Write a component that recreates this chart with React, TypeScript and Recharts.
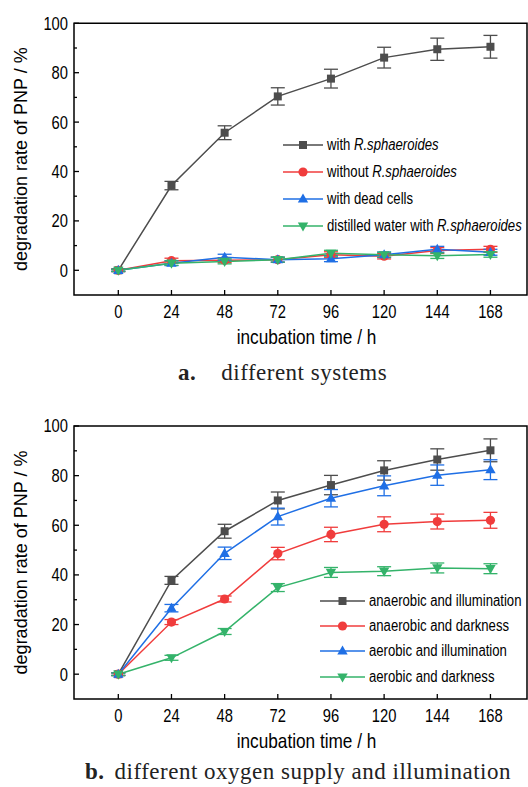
import React from "react";
import { LineChart, Line, XAxis, YAxis, ErrorBar, Legend, ReferenceArea } from "recharts";

const SANS = '"Liberation Sans", Arial, sans-serif';
const SERIF = '"Liberation Serif", "Times New Roman", serif';
// the reference uses a condensed sans; squeeze Liberation Sans horizontally
const SQ = 0.82;

// shared axes
const hours = [0, 24, 48, 72, 96, 120, 144, 168];
const yTicks = [0, 10, 20, 30, 40, 50, 60, 70, 80, 90, 100];
const xDomain = [-20, 184.5];
const yDomain = [-10, 100];

// a. different systems
const withRs = [0, 34.3, 55.7, 70.4, 77.6, 86.1, 89.5, 90.5];
const withRsErr = [0.6, 1.7, 2.8, 3.5, 3.8, 4.2, 4.5, 4.6];
const withoutRs = [0, 3.9, 4.1, 4.3, 6.3, 5.7, 8.0, 8.5];
const withoutRsErr = [0.4, 1.0, 1.0, 1.0, 1.2, 1.1, 1.2, 1.2];
const deadCells = [0, 2.9, 5.3, 4.3, 4.7, 6.3, 8.5, 7.3];
const deadCellsErr = [0.4, 1.0, 1.2, 1.0, 1.2, 1.1, 1.2, 1.2];
const distilled = [0, 2.9, 3.6, 4.3, 6.9, 6.3, 5.9, 6.4];
const distilledErr = [0.4, 0.9, 1.0, 1.0, 1.2, 1.0, 1.1, 1.1];

// b. different oxygen supply and illumination
const anIllum = [0, 37.8, 57.6, 70.0, 76.2, 82.1, 86.5, 90.2];
const anIllumErr = [0.6, 1.6, 2.8, 3.4, 3.9, 3.9, 4.3, 4.6];
const anDark = [0, 21.0, 30.3, 48.6, 56.3, 60.4, 61.5, 62.0];
const anDarkErr = [0.5, 1.0, 1.2, 2.5, 2.9, 3.0, 3.0, 3.2];
const aeIllum = [0, 26.6, 48.7, 63.5, 70.9, 75.9, 80.2, 82.4];
const aeIllumErr = [0.5, 1.5, 2.5, 3.4, 3.5, 4.0, 4.1, 4.0];
const aeDark = [0, 6.6, 17.2, 34.9, 41.0, 41.5, 42.8, 42.5];
const aeDarkErr = [0.5, 1.0, 1.2, 1.6, 2.0, 1.8, 2.0, 2.0];

const colors = ["#4d4d4d", "#f03c3c", "#1f6fe5", "#34b36a"];
const shapes = ["square", "circle", "up", "down"];

const labelsA: [string, string][] = [
  ["with ", "R.sphaeroides"],
  ["without ", "R.sphaeroides"],
  ["with dead cells", ""],
  ["distilled water with ", "R.sphaeroides"],
];
const labelsB: [string, string][] = [
  ["anaerobic and illumination", ""],
  ["anaerobic and darkness", ""],
  ["aerobic and illumination", ""],
  ["aerobic and darkness", ""],
];

const buildRows = (cols: number[][], errs: number[][]) =>
  hours.map((t, i) => {
    const row: Record<string, number> = { t };
    cols.forEach((c, k) => {
      row[`s${k}`] = c[i];
      row[`e${k}`] = errs[k][i];
    });
    return row;
  });

const dataA = buildRows([withRs, withoutRs, deadCells, distilled], [withRsErr, withoutRsErr, deadCellsErr, distilledErr]);
const dataB = buildRows([anIllum, anDark, aeIllum, aeDark], [anIllumErr, anDarkErr, aeIllumErr, aeDarkErr]);

function Marker({ shape, cx, cy, color }: { shape: string; cx: number; cy: number; color: string }) {
  if (shape === "square") return <rect x={cx - 4} y={cy - 4} width={8} height={8} fill={color} />;
  if (shape === "circle") return <circle cx={cx} cy={cy} r={4.6} fill={color} />;
  if (shape === "up")
    return <polygon points={`${cx},${cy - 5.5} ${cx + 5.2},${cy + 3.6} ${cx - 5.2},${cy + 3.6}`} fill={color} />;
  return <polygon points={`${cx},${cy + 5.5} ${cx + 5.2},${cy - 3.6} ${cx - 5.2},${cy - 3.6}`} fill={color} />;
}

// condensed svg text
function NText({ x, y, anchor, size, dy, children }: any) {
  return (
    <text
      transform={`translate(${x},${y}) scale(${SQ},1)`}
      x={0}
      y={0}
      dy={dy}
      textAnchor={anchor}
      fontSize={size}
      fontFamily={SANS}
      fill="#000"
    >
      {children}
    </text>
  );
}

const Y_GAP = 6;
const X_GAP = 10;

const YTick = (props: any) => {
  const { x, y, payload } = props;
  const major = payload.value % 20 === 0;
  const axisX = x + Y_GAP;
  return (
    <g>
      <line x1={axisX} x2={axisX + (major ? 5 : 3)} y1={y} y2={y} stroke="#000" strokeWidth={1.3} />
      {major && (
        <NText x={x} y={y} dy="0.36em" anchor="end" size={18}>
          {payload.value}
        </NText>
      )}
    </g>
  );
};

const XTick = (props: any) => {
  const { x, y, payload } = props;
  const axisY = y - X_GAP;
  return (
    <g>
      <line x1={x} x2={x} y1={axisY} y2={axisY - 5} stroke="#000" strokeWidth={1.3} />
      <NText x={x} y={y} dy="0.71em" anchor="middle" size={18}>
        {payload.value}
      </NText>
    </g>
  );
};

const XTitle = (props: any) => {
  const vb = props.viewBox;
  return (
    <NText x={vb.x + vb.width / 2 + 6} y={vb.y + vb.height} anchor="middle" size={21}>
      incubation time / h
    </NText>
  );
};

function LegendBox({ labels, rowH, lineW }: { labels: [string, string][]; rowH: number; lineW: number }) {
  return (
    <div>
      {labels.map(([plain, ital], k) => (
        <div key={k} style={{ display: "flex", alignItems: "center", height: rowH, whiteSpace: "nowrap" }}>
          <svg width={lineW} height={14} style={{ overflow: "visible", flex: "none" }}>
            <line x1={0} x2={lineW} y1={7} y2={7} stroke={colors[k]} strokeWidth={1.6} />
            <Marker shape={shapes[k]} cx={lineW / 2} cy={7} color={colors[k]} />
          </svg>
          <span
            style={{
              display: "inline-block",
              marginLeft: 4,
              fontFamily: SANS,
              fontSize: 16,
              color: "#000",
              transform: `scaleX(${SQ})`,
              transformOrigin: "left center",
            }}
          >
            {plain}
            {ital && <i>{ital}</i>}
          </span>
        </div>
      ))}
    </div>
  );
}

function Panel({
  data,
  labels,
  height,
  margin,
  legendStyle,
  rowH,
  lineW,
}: {
  data: Record<string, number>[];
  labels: [string, string][];
  height: number;
  margin: { top: number; right: number; bottom: number; left: number };
  legendStyle: React.CSSProperties;
  rowH: number;
  lineW: number;
}) {
  return (
    <LineChart width={528} height={height} data={data} margin={margin}>
      <XAxis
        dataKey="t"
        type="number"
        domain={xDomain}
        allowDataOverflow
        ticks={hours}
        interval={0}
        axisLine={false}
        tickLine={false}
        tickSize={0}
        tickMargin={X_GAP}
        height={49}
        tick={<XTick />}
        label={{ value: "incubation time / h", content: XTitle }}
      />
      <YAxis
        type="number"
        domain={yDomain}
        allowDataOverflow
        ticks={yTicks}
        interval={0}
        axisLine={false}
        tickLine={false}
        tickSize={0}
        tickMargin={Y_GAP}
        width={74}
        tick={<YTick />}
        label={{
          value: "degradation rate of PNP / %",
          angle: -90,
          position: "insideLeft",
          offset: 21,
          style: { textAnchor: "middle", fontFamily: SANS, fontSize: 18, fill: "#000" },
        }}
      />
      <ReferenceArea
        x1={xDomain[0]}
        x2={xDomain[1]}
        y1={yDomain[0]}
        y2={yDomain[1]}
        fill="none"
        stroke="#000"
        strokeWidth={1.5}
        ifOverflow="visible"
      />
      <Legend
        layout="vertical"
        align="center"
        verticalAlign="middle"
        wrapperStyle={legendStyle}
        content={() => <LegendBox labels={labels} rowH={rowH} lineW={lineW} />}
      />
      {colors.map((c, k) => (
        <Line
          key={k}
          type="linear"
          dataKey={`s${k}`}
          stroke={c}
          strokeWidth={1.5}
          isAnimationActive={false}
          activeDot={false}
          dot={(p: any) => <Marker key={`d${k}-${p.index}`} shape={shapes[k]} cx={p.cx} cy={p.cy} color={c} />}
        >
          <ErrorBar dataKey={`e${k}`} width={7} stroke={c} strokeWidth={1.3} direction="y" isAnimationActive={false} />
        </Line>
      ))}
    </LineChart>
  );
}

const captionStyle: React.CSSProperties = {
  position: "absolute",
  fontFamily: SERIF,
  fontSize: 23,
  lineHeight: "23px",
  color: "#222",
  whiteSpace: "nowrap",
  letterSpacing: 0.5,
};

export default function App() {
  return (
    <div style={{ position: "absolute", left: 0, top: 0, width: 528, height: 787, background: "#fff", overflow: "hidden" }}>
      <div style={{ position: "absolute", left: 0, top: 0 }}>
        <Panel
          data={dataA}
          labels={labelsA}
          height={400}
          margin={{ top: 23.3, right: 1, bottom: 56, left: 0 }}
          legendStyle={{ left: 283, top: 131.5, width: 245 }}
          rowH={27}
          lineW={40}
        />
      </div>
      <div style={{ ...captionStyle, left: 178, top: 360.7 }}>
        <b style={{ marginRight: 25 }}>a.</b>different systems
      </div>
      <div style={{ position: "absolute", left: 0, top: 400 }}>
        <Panel
          data={dataB}
          labels={labelsB}
          height={387}
          margin={{ top: 26, right: 1, bottom: 39, left: 0 }}
          legendStyle={{ left: 320, top: 188, width: 208 }}
          rowH={25.3}
          lineW={45}
        />
      </div>
      <div style={{ ...captionStyle, left: 85, top: 759.7 }}>
        <b style={{ marginRight: 10 }}>b.</b>different oxygen supply and illumination
      </div>
    </div>
  );
}
